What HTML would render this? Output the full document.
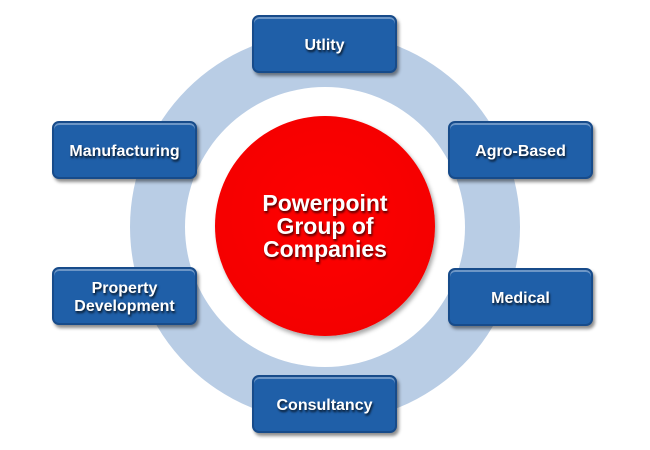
<!DOCTYPE html>
<html><head><style>
body{margin:0;width:650px;height:450px;background:#fff;position:relative;overflow:hidden;font-family:"Liberation Sans",Arial,sans-serif}
.c{position:absolute;border-radius:50%}
.b{position:absolute;width:145px;height:58px;padding-top:4px;background:#1f5fa8;border:2px solid #174b8a;border-radius:7px;box-sizing:border-box;box-shadow:2px 3px 3px rgba(0,0,0,.45),inset 0 2px 0 rgba(255,255,255,.35);color:#fff;font-weight:bold;font-size:16px;display:flex;align-items:center;justify-content:center;text-align:center;line-height:18px;text-shadow:1px 2px 2px rgba(0,0,0,.8)}
</style></head><body>
<div class="c" style="left:130px;top:32px;width:390px;height:390px;background:#b9cde5"></div>
<div class="c" style="left:185px;top:87px;width:280px;height:280px;background:#fff"></div>
<div class="c" style="left:215px;top:116px;width:220px;height:220px;background:radial-gradient(circle at 50% 45%,#ff0000,#f40000 75%,#d00000);box-shadow:2px 3px 4px rgba(0,0,0,.35)"></div>
<div style="position:absolute;left:215px;top:192px;width:220px;text-align:center;color:#fff;font-weight:bold;font-size:23px;line-height:23px;text-shadow:1px 2px 2px rgba(0,0,0,.7)">Powerpoint<br>Group of<br>Companies</div>
<div class="b" style="left:252px;top:15px">Utlity</div>
<div class="b" style="left:52px;top:121px">Manufacturing</div>
<div class="b" style="left:448px;top:121px">Agro-Based</div>
<div class="b" style="left:52px;top:267px">Property<br>Development</div>
<div class="b" style="left:448px;top:268px">Medical</div>
<div class="b" style="left:252px;top:375px">Consultancy</div>
</body></html>
